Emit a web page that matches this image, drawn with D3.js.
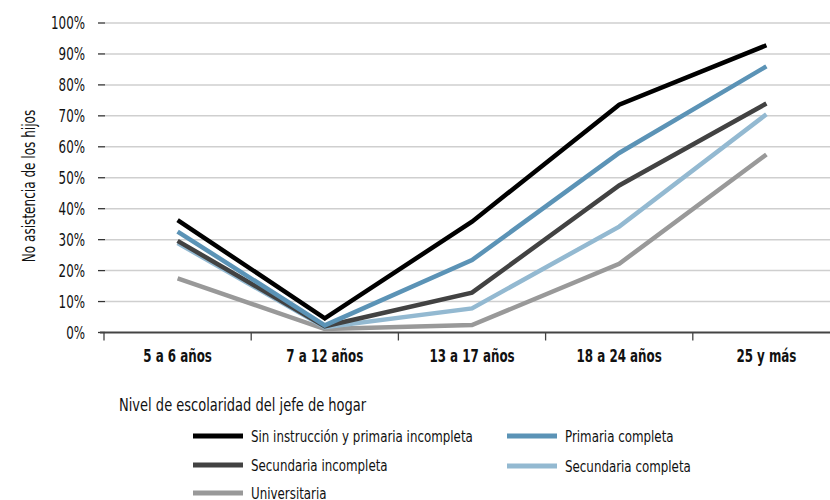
<!DOCTYPE html>
<html>
<head>
<meta charset="utf-8">
<script src="https://cdn.jsdelivr.net/npm/d3@7"></script>
<style>
  body { margin: 0; background: #fff; }
  text { font-family: "DejaVu Sans", sans-serif; fill: #111; }
</style>
</head>
<body>
<div id="graph"></div>
<script>
var categories = ['5 a 6 años', '7 a 12 años', '13 a 17 años', '18 a 24 años', '25 y más']

var sinInstruccion = [36.3, 4.6, 35.8, 73.6, 92.8]
var primariaCompleta = [32.6, 2.3, 23.4, 58, 86]
var secundariaIncompleta = [29.6, 2, 12.9, 47.5, 74]
var secundariaCompleta = [28.9, 1.7, 7.8, 34.2, 70.5]
var universitaria = [17.5, 1.1, 2.4, 22.2, 57.5]

var yTicks = [0, 10, 20, 30, 40, 50, 60, 70, 80, 90, 100]

var series = [
  {name: 'Sin instrucción y primaria incompleta', values: sinInstruccion, color: '#000000'},
  {name: 'Primaria completa', values: primariaCompleta, color: '#5b93b6'},
  {name: 'Secundaria incompleta', values: secundariaIncompleta, color: '#424242'},
  {name: 'Secundaria completa', values: secundariaCompleta, color: '#93b9d1'},
  {name: 'Universitaria', values: universitaria, color: '#999999'}
]

var width = 830, height = 500

// no condensed font around, so squash text horizontally.
// moves x/y into a transform first
function narrow(sel, k, pre) {
  sel.each(function() {
    var t = d3.select(this)
    var tx = +t.attr('x') || 0, ty = +t.attr('y') || 0
    t.attr('x', null).attr('y', null)
      .attr('transform', `translate(${tx},${ty}) ${pre || ''} scale(${k},1)`)
  })
}

var svg = d3.select('#graph').append('svg')
  .attr('width', width).attr('height', height)

var x = d3.scaleBand().domain(categories).range([104, 104 + 5 * 147.2])
var y = d3.scaleLinear().domain([0, 100]).range([332.5, 23])

// gridlines + little dashes left of them
var grid = svg.append('g')
grid.selectAll('line.grid').data(yTicks.slice(1)).join('line')
  .attr('class', 'grid')
  .attr('x1', 105).attr('x2', width)
  .attr('y1', d => y(d)).attr('y2', d => y(d))
  .attr('stroke', '#cfcfcf').attr('stroke-width', 1.5)
grid.selectAll('line.dash').data(yTicks).join('line')
  .attr('class', 'dash')
  .attr('x1', 98).attr('x2', 105)
  .attr('y1', d => y(d)).attr('y2', d => y(d))
  .attr('stroke', '#333').attr('stroke-width', 1.3)
grid.selectAll('text').data(yTicks).join('text')
  .attr('x', 85).attr('y', d => y(d))
  .attr('dy', '0.36em')
  .attr('text-anchor', 'end')
  .style('font-size', '17px')
  .text(d => d + '%')
  .call(narrow, 0.7)

// x axis
var xAxis = d3.axisBottom(x).tickSize(0).tickPadding(0)
var gx = svg.append('g').attr('transform', `translate(0,${y(0)})`).call(xAxis)
gx.select('.domain').remove()
gx.append('line')
  .attr('x1', 100).attr('x2', width)
  .attr('stroke', '#444').attr('stroke-width', 2)
gx.selectAll('line.btick').data(categories).join('line')
  .attr('class', 'btick')
  .attr('x1', d => x(d)).attr('x2', d => x(d))
  .attr('y1', 0).attr('y2', 8)
  .attr('stroke', '#444').attr('stroke-width', 1.3)
gx.selectAll('.tick text')
  .attr('y', 24)
  .attr('dy', '0.35em')
  .style('font-size', '17px')
  .style('font-weight', 'bold')
  .style('font-family', null)
  .attr('fill', '#111')
  .call(narrow, 0.7)

svg.append('text')
  .attr('x', 29).attr('y', 186)
  .attr('dy', '0.35em')
  .attr('text-anchor', 'middle')
  .style('font-size', '17px')
  .text('No asistencia de los hijos')
  .call(narrow, 0.71, 'rotate(-90)')

// lines
var line = d3.line()
  .x((d, i) => x(categories[i]) + x.bandwidth() / 2)
  .y(d => y(d))

svg.append('g').selectAll('path').data(series.slice().reverse()).join('path')
  .attr('d', d => line(d.values))
  .attr('fill', 'none')
  .attr('stroke', d => d.color)
  .attr('stroke-width', 4.5)

// legend
svg.append('text')
  .attr('x', 119).attr('y', 405)
  .attr('dy', '0.35em')
  .style('font-size', '17.5px')
  .text('Nivel de escolaridad del jefe de hogar')
  .call(narrow, 0.745)

var legendPos = [[193, 436], [507, 436], [193, 465], [507, 466], [193, 493]]

var leg = svg.append('g').selectAll('g').data(series).join('g')
  .attr('transform', (d, i) => `translate(${legendPos[i]})`)
leg.append('line')
  .attr('x1', 0).attr('x2', 50)
  .attr('stroke', d => d.color).attr('stroke-width', 5)
leg.append('text')
  .attr('x', 58).attr('dy', '0.38em')
  .style('font-size', '16.5px')
  .text(d => d.name)
  .call(narrow, 0.72)
</script>
</body>
</html>
